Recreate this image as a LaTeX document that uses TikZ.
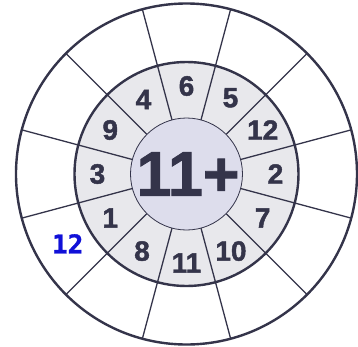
\documentclass[tikz,border=0pt]{standalone}
\usepackage{fontspec}
\setmainfont{Liberation Sans}
\newfontfamily\numfont[FakeBold=1.6]{Liberation Sans Bold}
\newfontfamily\bignumfont[FakeBold=1.4]{Liberation Sans Bold}
\newfontfamily\bluemono[FakeBold=1.2]{DejaVu Sans Mono Bold}
\definecolor{ink}{HTML}{34344A}
\definecolor{ringgray}{HTML}{E8E8EC}
\definecolor{centerfill}{HTML}{DDDDEC}
\definecolor{answerblue}{HTML}{1010D8}
\begin{document}
\begin{tikzpicture}[x=1bp,y=1bp,
  ringnum/.style={font=\numfont\fontsize{28}{28}\selectfont, text=ink, inner sep=0pt},
  thickcircle/.style={draw=ink, line width=2.4bp},
  spoke/.style={draw=ink, line width=1.3bp}]
\useasboundingbox (-186.5,-173) rectangle (171.5,174);
\fill[white] (-186.5,-173) rectangle (171.5,174);
\draw[thickcircle, fill=white] (0,0) circle (170.5);
\draw[thickcircle, fill=ringgray] (0,0) circle (112);
\foreach \a in {15,45,...,345} \draw[spoke] (\a:56) -- (\a:170.5);
\draw[draw=ink, line width=0.8bp, fill=centerfill] (0,0) circle (56);
\node[font=\bignumfont\fontsize{63}{63}\selectfont, text=ink, inner sep=0pt] (c) at (1.5,0) {11+};
\node[ringnum] (n90) at (90:88) {6};
\node[ringnum] (n60) at (60:88) {5};
\node[ringnum] (n30) at (30:88) {12};
\node[ringnum] (n0) at (0:89) {2};
\node[ringnum] (n330) at (-30:88) {7};
\node[ringnum] (n300) at (-60:89) {10};
\node[ringnum] (n270) at (-90:89) {11};
\node[ringnum] (n240) at (-120:89) {8};
\node[ringnum] (n210) at (-150:88) {1};
\node[ringnum] (n180) at (180:89) {3};
\node[ringnum] (n150) at (150:88) {9};
\node[ringnum] (n120) at (120:86) {4};
\node[font=\bluemono\fontsize{26}{26}\selectfont, text=answerblue, inner sep=0pt] (ans) at (-118.8,-69.8) {12};
\end{tikzpicture}
\end{document}
